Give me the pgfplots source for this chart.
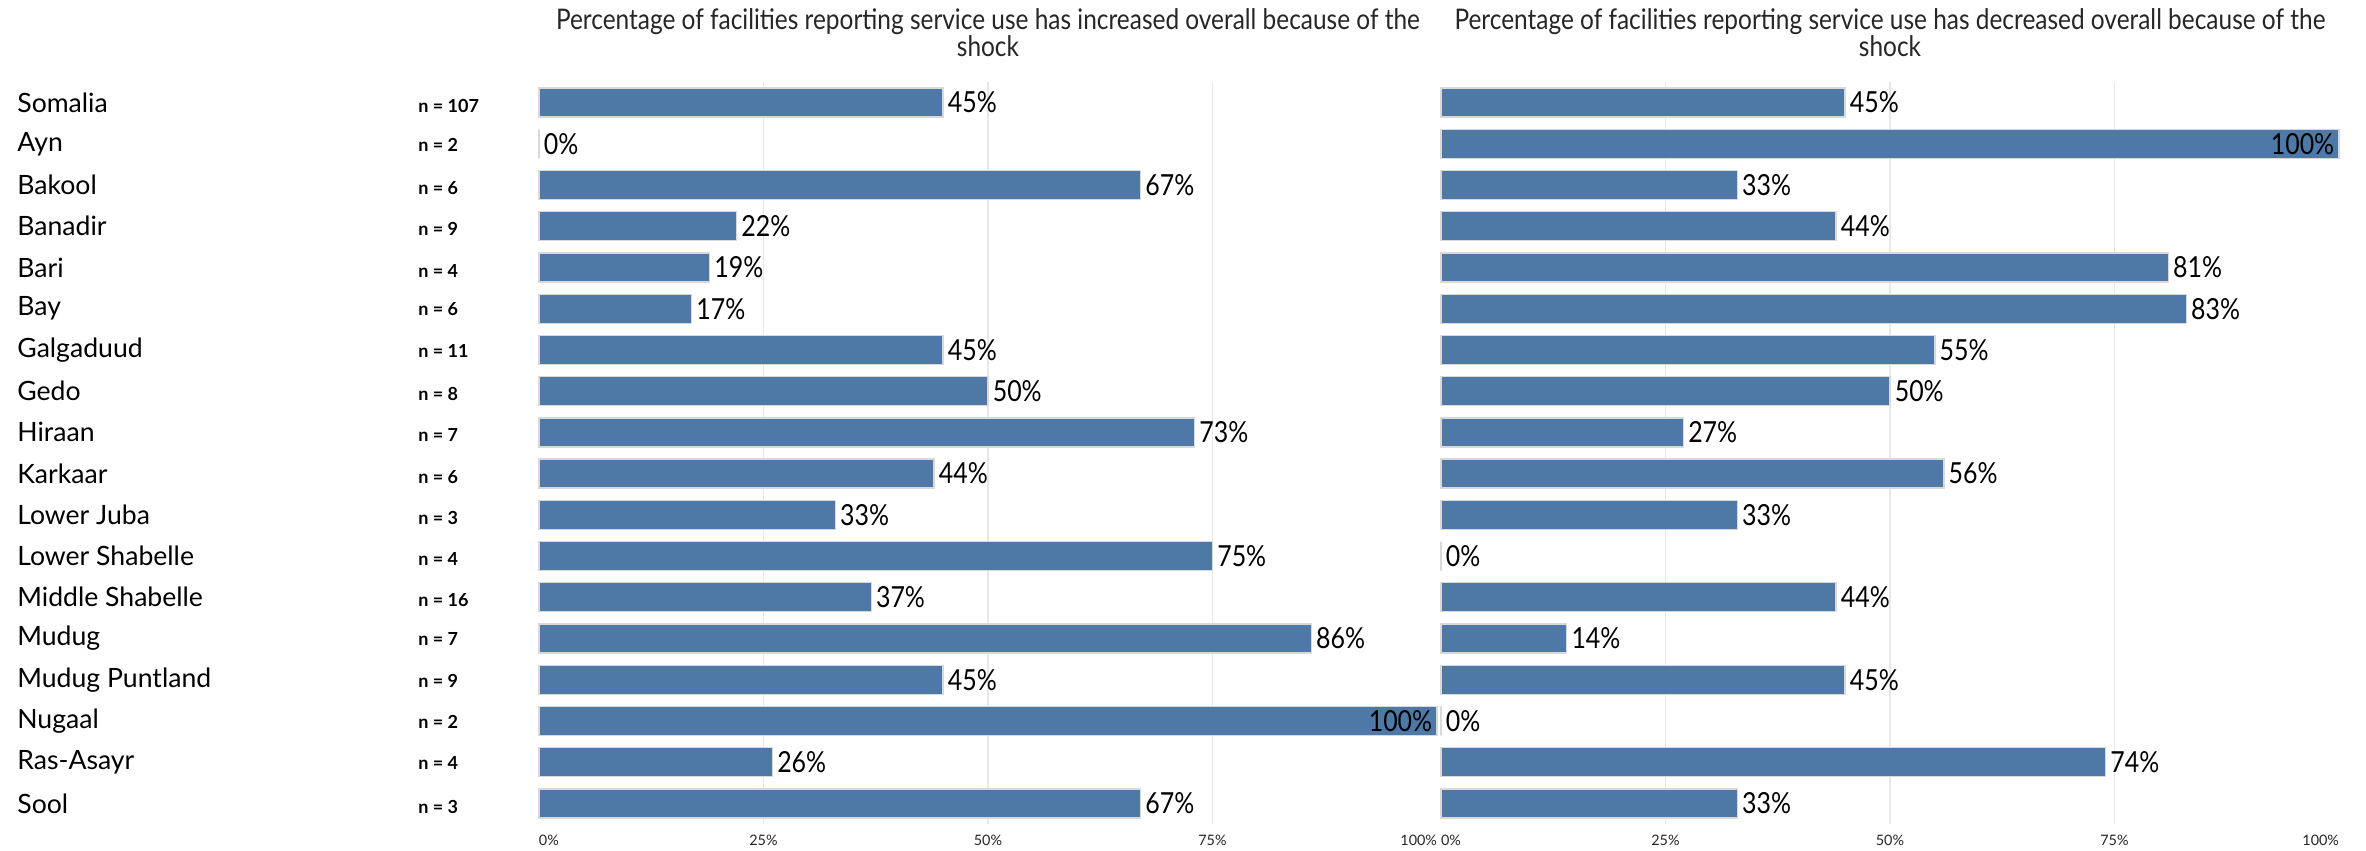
\documentclass[border=0pt]{standalone}
\usepackage{pgfplots}
\pgfplotsset{compat=1.18}
\usepackage{pgfplotstable}
\usepackage{fontspec}
\setmainfont{Lato}
\newfontfamily\condfont[FakeStretch=0.86]{Lato}
\definecolor{barblue}{RGB}{78,121,167}

% y = row (0 = Somalia ... 17 = Sool)
\pgfplotstableread{
y inc dec
0 45 45
1 0 100
2 67 33
3 22 44
4 19 81
5 17 83
6 45 55
7 50 50
8 73 27
9 44 56
10 33 33
11 75 0
12 37 44
13 86 14
14 45 45
15 100 0
16 26 74
17 67 33
}\data

\newcommand\cat[2]{\makebox[200.5pt][l]{\fontsize{13.3}{13.3}\selectfont #1}{\bfseries\fontsize{9}{9}\selectfont n = #2}}

\pgfplotsset{
  panel/.style={
    scale only axis, width=449pt, height=371pt,
    anchor=south west,
    xmin=0, xmax=100, ymin=-0.5, ymax=17.5, y dir=reverse,
    clip=false,
    axis line style={draw=none},
    major tick length=0pt, minor tick length=0pt,
    xtick={0,25,50,75,100},
    minor xtick={25,50,75},
    xminorgrids, minor grid style={black!9, line width=0.6pt},
    xticklabels={\makebox[0pt][l]{0\%}, 25\%, 50\%, 75\%, \makebox[0pt][r]{100\%}},
    xticklabel style={font=\fontsize{7.2}{8}\selectfont, text=black!85, yshift=-2.2pt},
    ytick={0,...,17},
    xbar, bar width=14.5pt, /pgf/bar shift=0pt,
    /pgf/number format/assume math mode=true,
    title style={font=\condfont\fontsize{14.2}{13.5}\selectfont, align=center,
      at={(0.5,1)}, anchor=center, yshift=18.5pt, text=black!85},
  },
  barstyle/.style={fill=barblue, draw=black!15, line width=0.7pt},
  lbl/.style={draw=none, fill=none, forget plot, point meta=x,
    nodes near coords={\pgfmathprintnumber[assume math mode=true]{\pgfplotspointmeta}\%},
    every node near coord/.append style={font=\condfont\fontsize{14.5}{14.5}\selectfont, anchor=#1, inner sep=2.2pt, text=black}},
}

\begin{document}
\begin{tikzpicture}
\useasboundingbox (-269.5pt,-13.5pt) rectangle (913.5pt,412pt);
\begin{axis}[panel, at={(0,0)},
  title={Percentage of facilities reporting service use has increased overall because of the\\shock},
  yticklabels={\cat{Somalia}{107}, \cat{Ayn}{2}, \cat{Bakool}{6}, \cat{Banadir}{9}, \cat{Bari}{4}, \cat{Bay}{6}, \cat{Galgaduud}{11}, \cat{Gedo}{8}, \cat{Hiraan}{7}, \cat{Karkaar}{6}, \cat{Lower Juba}{3}, \cat{Lower Shabelle}{4}, \cat{Middle Shabelle}{16}, \cat{Mudug}{7}, \cat{Mudug Puntland}{9}, \cat{Nugaal}{2}, \cat{Ras-Asayr}{4}, \cat{Sool}{3}},
  yticklabel style={anchor=west, inner sep=0pt, xshift=-261pt, text=black},
]
\addplot[barstyle] table[x=inc, y=y] {\data};
\addplot[lbl=west] table[x=inc, y=y, restrict x to domain=0:99] {\data};
\addplot[lbl=east] table[x=inc, y=y, restrict x to domain=99.5:101] {\data};
\end{axis}
\begin{axis}[panel, at={(451pt,0)},
  title={Percentage of facilities reporting service use has decreased overall because of the\\shock},
  yticklabels={},
]
\addplot[barstyle] table[x=dec, y=y] {\data};
\addplot[lbl=west] table[x=dec, y=y, restrict x to domain=0:99] {\data};
\addplot[lbl=east] table[x=dec, y=y, restrict x to domain=99.5:101] {\data};
\end{axis}
\end{tikzpicture}
\end{document}
